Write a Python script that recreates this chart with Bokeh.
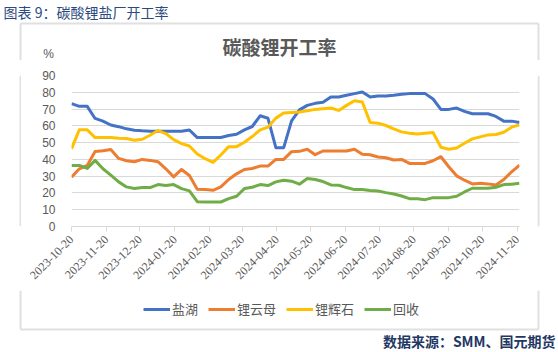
import math
import pandas as pd
from bokeh.plotting import figure
from bokeh.layouts import column, row
from bokeh.models import Legend, LegendItem, FixedTicker, Range1d
from bokeh.core.properties import value
from bokeh.embed import file_html
from bokeh.resources import INLINE

# ---------------- data ----------------
start_date = "2023-10-20"
n_weeks = 58
dates = pd.date_range(start_date, periods=n_weeks, freq="7D")

salt_lake = [73.2, 71.6, 71.6, 64.4, 62.8, 60.5, 59.5, 58.2, 57.4, 57.0,
             56.8, 56.8, 56.8, 56.8, 56.8, 57.5, 53.0, 53.0, 53.0, 53.0,
             54.2, 55.0, 57.6, 59.6, 66.0, 64.5, 47.0, 47.0, 63.0, 69.5,
             72.2, 73.4, 74.0, 77.2, 77.2, 78.2, 79.2, 80.2, 77.2, 77.8,
             77.8, 78.2, 78.8, 79.2, 79.2, 79.2, 76.0, 69.8, 69.8, 70.6,
             68.6, 67.2, 67.2, 67.2, 65.6, 62.8, 62.8, 62.0]

lepidolite = [29.4, 34.4, 36.4, 44.7, 45.2, 45.9, 40.6, 39.2, 38.6, 40.0,
              39.4, 38.6, 34.4, 29.6, 34.0, 30.4, 22.2, 22.0, 21.6, 23.6,
              28.0, 31.4, 34.0, 34.6, 36.0, 36.0, 40.0, 40.0, 44.6, 44.8,
              46.0, 42.8, 45.0, 45.0, 45.0, 45.0, 46.0, 43.0, 42.8, 41.4,
              41.0, 39.6, 40.0, 37.6, 37.6, 37.6, 39.2, 41.6, 35.6, 30.2,
              27.6, 25.4, 25.8, 25.4, 24.8, 28.0, 32.6, 36.6]

spodumene = [46.3, 57.7, 57.7, 53.0, 53.0, 53.0, 52.6, 52.4, 51.4, 52.0,
             54.4, 57.2, 55.4, 51.8, 49.4, 48.0, 43.2, 40.4, 38.2, 42.6,
             47.6, 47.6, 50.2, 53.6, 57.6, 59.2, 64.6, 67.6, 68.0, 68.2,
             69.0, 69.8, 70.2, 70.6, 69.2, 72.2, 75.0, 74.2, 62.0, 61.6,
             60.2, 58.2, 56.4, 55.6, 55.2, 55.6, 56.0, 47.2, 46.0, 46.8,
             49.6, 52.2, 53.4, 54.6, 54.8, 56.2, 59.2, 60.6]

recycling = [36.4, 36.4, 34.6, 39.4, 34.4, 30.6, 26.6, 23.6, 22.6, 23.2,
             23.2, 25.0, 24.4, 25.0, 22.6, 21.2, 14.8, 14.6, 14.6, 14.6,
             16.6, 18.0, 22.6, 23.4, 25.0, 24.4, 26.6, 27.6, 27.0, 25.2,
             28.6, 28.0, 26.8, 24.8, 24.6, 23.2, 22.0, 22.0, 21.4, 21.2,
             20.2, 19.4, 18.2, 16.6, 16.6, 16.0, 17.2, 17.2, 17.2, 18.0,
             20.6, 22.8, 22.8, 22.8, 23.4, 25.0, 25.2, 25.8]

series_names = ["盐湖", "锂云母", "锂辉石", "回收"]
series_colors = ["#4472C4", "#ED7D31", "#FFC000", "#70AD47"]

tick_labels = ["2023-10-20", "2023-11-20", "2023-12-20", "2024-01-20",
               "2024-02-20", "2024-03-20", "2024-04-20", "2024-05-20",
               "2024-06-20", "2024-07-20", "2024-08-20", "2024-09-20",
               "2024-10-20", "2024-11-20"]
y_ticks = [0, 10, 20, 30, 40, 50, 60, 70, 80, 90]

header_text = "图表 9：碳酸锂盐厂开工率"
chart_title = "碳酸锂开工率"
unit_text = "%"
source_text = "数据来源：SMM、国元期货"

# ---------------- layout constants (page pixels, y from top) ----------------
W, H = 558, 352
TOP_H = 60          # header / title strip
MAIN_H = 230        # main chart strip
BOT_H = H - TOP_H - MAIN_H
SIDE_W = 21         # left / right strips holding the box border
MAIN_W = W - 2 * SIDE_W
BOX_L, BOX_R, BOX_T, BOX_B = 20, 538, 23, 329
BORDER = "#D9D9D9"
BOX_COLOR = "#E0E0E0"


def deco_fig(w, h):
    f = figure(width=w, height=h, output_backend="svg", toolbar_location=None,
               x_axis_location=None, y_axis_location=None, min_border=0,
               x_range=Range1d(0, w), y_range=Range1d(0, h))
    f.grid.visible = False
    f.outline_line_color = None
    f.background_fill_color = "white"
    f.border_fill_color = "white"
    return f


def border_piece(f, h, x0, y0, x1, y1):
    # y given from the strip's top edge
    f.line(x=[x0, x1], y=[h - y0, h - y1], line_color=BOX_COLOR, line_width=2)


# ---------------- top strip ----------------
top = deco_fig(W, TOP_H)
border_piece(top, TOP_H, BOX_L, BOX_T, BOX_R, BOX_T)
border_piece(top, TOP_H, BOX_L, BOX_T, BOX_L, TOP_H)
border_piece(top, TOP_H, BOX_R, BOX_T, BOX_R, TOP_H)
top.text(x=[3], y=[TOP_H - 11], text=[header_text], text_align="left", text_baseline="middle",
         text_font=value("Noto Sans CJK SC"), text_font_size="14px", text_color="#2B4A80")
top.text(x=[279], y=[TOP_H - 46], text=[chart_title], text_align="center", text_baseline="middle",
         text_font=value("Noto Sans CJK SC"), text_font_size="19px",
         text_font_style="bold", text_color="#595959")
top.text(x=[48], y=[TOP_H - 53], text=[unit_text], text_align="center", text_baseline="middle",
         text_font=value("Liberation Sans"), text_font_size="12px", text_color="#595959")

# ---------------- side strips ----------------
left_strip = deco_fig(SIDE_W, MAIN_H)
border_piece(left_strip, MAIN_H, BOX_L, 0, BOX_L, MAIN_H)
right_strip = deco_fig(SIDE_W, MAIN_H)
rx = BOX_R - (W - SIDE_W)
border_piece(right_strip, MAIN_H, rx, 0, rx, MAIN_H)

# ---------------- main chart ----------------
p = figure(width=MAIN_W, height=MAIN_H, x_axis_type="datetime",
           output_backend="svg", toolbar_location=None,
           min_border_left=71 - SIDE_W, min_border_right=(W - SIDE_W) - 519,
           min_border_top=75 - TOP_H, min_border_bottom=(TOP_H + MAIN_H) - 226,
           x_range=Range1d(dates[0], dates[-1]),
           y_range=Range1d(0, 90))
p.outline_line_color = None
p.background_fill_color = "white"
p.border_fill_color = "white"

p.yaxis.ticker = FixedTicker(ticks=y_ticks)
p.yaxis.axis_line_color = None
p.yaxis.major_tick_line_color = None
p.yaxis.minor_tick_line_color = None
p.yaxis.major_label_text_color = "#595959"
p.yaxis.major_label_text_font = "Liberation Sans"
p.yaxis.major_label_text_font_size = "12px"
p.yaxis.major_label_standoff = 10

tick_ms = [pd.Timestamp(t).value / 1e6 for t in tick_labels]
p.xaxis.ticker = FixedTicker(ticks=tick_ms)
p.xaxis.major_label_overrides = {ms: lab for ms, lab in zip(tick_ms, tick_labels)}
p.xaxis.major_label_orientation = math.pi / 4
p.xaxis.axis_line_color = BORDER
p.xaxis.major_tick_line_color = BORDER
p.xaxis.major_tick_in = 0
p.xaxis.major_tick_out = 5
p.xaxis.minor_tick_line_color = None
p.xaxis.major_label_text_color = "#595959"
p.xaxis.major_label_text_font = "Liberation Serif"
p.xaxis.major_label_text_font_size = "12px"
p.xaxis.major_label_standoff = 6

p.xgrid.grid_line_color = None
p.ygrid.grid_line_color = BORDER
p.ygrid.grid_line_width = 1

for vals, col in zip([salt_lake, lepidolite, spodumene, recycling], series_colors):
    p.line(dates, vals, line_color=col, line_width=3, line_join="round")

# ---------------- bottom strip (legend + source) ----------------
bot = deco_fig(W, BOT_H)
by = BOX_B - (TOP_H + MAIN_H)
border_piece(bot, BOT_H, BOX_L, by, BOX_R, by)
border_piece(bot, BOT_H, BOX_L, 0, BOX_L, by)
border_piece(bot, BOT_H, BOX_R, 0, BOX_R, by)
nan = float("nan")
legend_renderers = [bot.line(x=[nan], y=[nan], line_color=c, line_width=3) for c in series_colors]
legend = Legend(items=[LegendItem(label=n, renderers=[r]) for n, r in zip(series_names, legend_renderers)],
                orientation="horizontal", location=(143, BOT_H - 28),
                glyph_width=27, glyph_height=16, label_height=16,
                label_standoff=2, spacing=10, padding=0, margin=0,
                border_line_color=None, background_fill_alpha=0,
                label_text_font="Noto Sans CJK SC", label_text_font_size="13px",
                label_text_color="#595959")
bot.add_layout(legend)
bot.text(x=[555], y=[BOT_H - (340 - (TOP_H + MAIN_H))], text=[source_text], text_align="right",
         text_baseline="middle", text_font=value("Noto Sans CJK SC"), text_font_size="14px",
         text_font_style="bold", text_color="#1F3864")

layout = column(top, row(left_strip, p, right_strip, spacing=0), bot, spacing=0)
open("out.html", "w").write(file_html(layout, INLINE))
